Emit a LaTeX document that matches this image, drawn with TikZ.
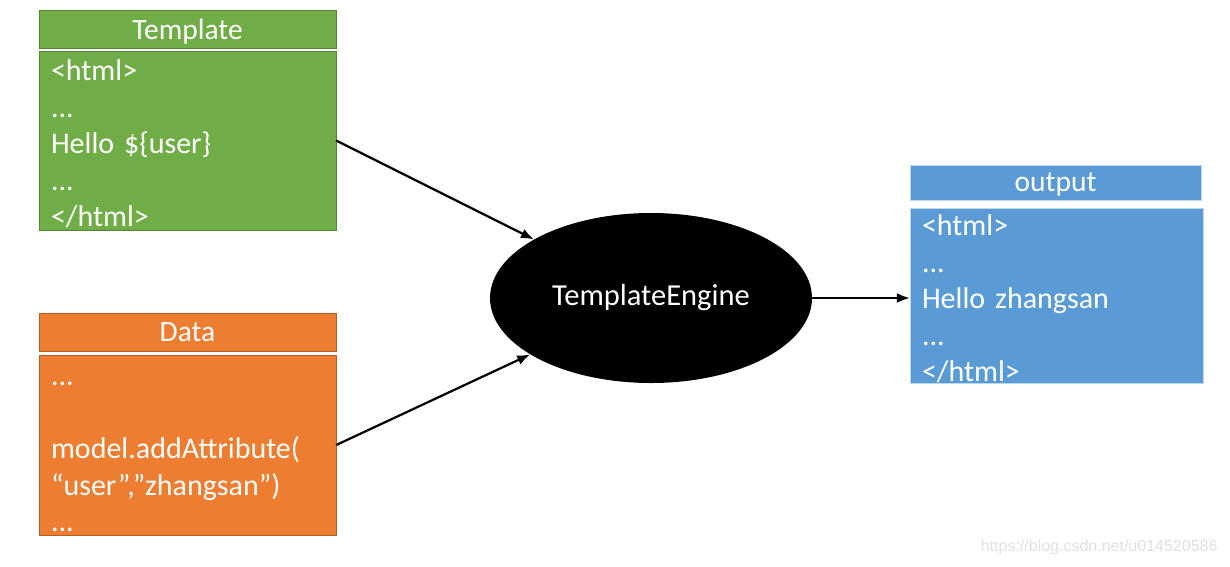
\documentclass[tikz,border=0pt]{standalone}
\usepackage{fontspec}
\setmainfont{Carlito}
\newfontfamily\markfont{Liberation Sans}
\usetikzlibrary{shapes.geometric,arrows.meta}

\definecolor{tplgreen}{HTML}{70AD47}
\definecolor{dataorange}{HTML}{ED7D31}
\definecolor{outblue}{HTML}{5B9BD5}

\begin{document}
\begin{tikzpicture}
  [
    x=1pt, y=-1pt,
    head/.style={draw=#1!75!black, fill=#1, text=white, inner sep=0pt,
      minimum width=297pt, minimum height=38pt, text depth=0pt,
      font=\fontsize{29.5}{36}\selectfont},
    body/.style={draw=#1!75!black, fill=#1, text=white, inner xsep=12pt,
      inner ysep=0pt, text width=273pt, minimum height=179pt, align=left,
      font=\fontsize{30}{36.5}\selectfont,
      execute at begin node={\rule{0pt}{28pt}}},
    link/.style={black, line width=2.2pt, -{Latex[length=13pt,width=10pt]}},
  ]
    \useasboundingbox (0,0) rectangle (1230,566);

    % template
    \node [head=tplgreen] (thead) at (187.5,29) {Template};
    \node [body=tplgreen] (tbody) at (187.5,140.5)
      {<html>\\...\\Hello \$\{user\}\\...\\</html>};

    % data
    \node [head=dataorange] (dhead) at (187.5,332) {Data};
    \node [body=dataorange, minimum height=180pt] (dbody) at (187.5,445)
      {...\\[36.5pt]model.addAttribute(\\“user”,”zhangsan”)\\...};

    % engine
    \node [ellipse, fill=black, text=white, inner sep=0pt,
      minimum width=322pt, minimum height=170pt,
      font=\fontsize{30.5}{36}\selectfont] (engine) at (651,298) {TemplateEngine};

    % output
    \node [head=outblue, draw=outblue!40!white, minimum width=291pt,
      minimum height=35pt] (ohead) at (1055.5,182.5) {output};
    \node [body=outblue, draw=outblue!40!white, text width=269pt,
      minimum height=175pt] (obody) at (1056.5,295.5)
      {<html>\\...\\Hello zhangsan\\...\\</html>};

    % links
    \draw [link] (tbody.east) -- (engine);
    \draw [link] (dbody.east) -- (engine);
    \draw [link] (engine.east) -- (obody.west |- engine.east);

    % watermark
    \node [text=black!12, font=\markfont\fontsize{16}{18}\selectfont,
      anchor=east] (mark) at (1221,547) {https://blog.csdn.net/u014520586};
  \end{tikzpicture}
\end{document}
